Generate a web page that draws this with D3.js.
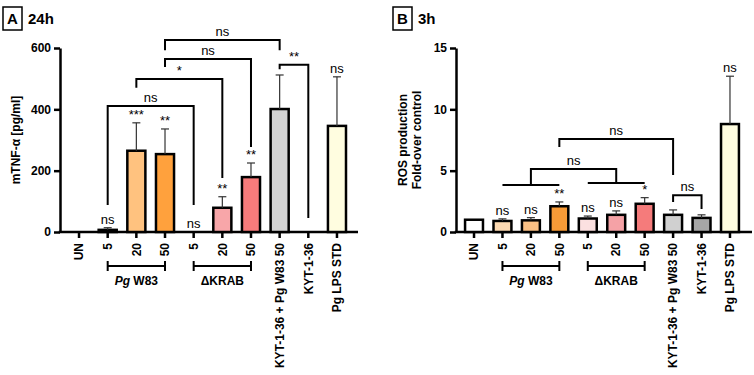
<!DOCTYPE html>
<html>
<head>
<meta charset="utf-8">
<script src="https://cdn.jsdelivr.net/npm/d3@7"></script>
<style>
  body { margin: 0; background: #fff; }
  svg { display: block; font-family: 'Liberation Sans', Arial, sans-serif; }
</style>
</head>
<body>
<svg id="chart" width="754" height="375"></svg>
<script>
// categorias (iguais nos dois paineis)
const categories = ['UN', '5', '20', '50', '5', '20', '50', 'KYT-1-36 + Pg W83 50', 'KYT-1-36', 'Pg LPS STD'];

// painel A - mTNF-a 24h
const tnfMean = [0, 7, 265, 254, 0, 79, 179, 401, 0, 346];
const tnfErr  = [0, 7, 91, 82, 0, 36, 46, 111, 0, 160];
const tnfSig  = ['', 'ns', '***', '**', 'ns', '**', '**', '', '', 'ns'];
const tnfTicks = [0, 200, 400, 600];
const tnfColors = ['#ffffff', '#fcd9b1', '#ffc27f', '#ffa13d', '#fde2e2', '#f8a6a9', '#f77b7b', '#d3d3d3', '#a9a9a9', '#fffde0'];
// comparacoes: indices a/b, altura do topo e das pernas (unidades do eixo)
const tnfBrackets = [
  { a: 1, b: 4, top: 411, legA: 88, legB: 88, label: 'ns' },
  { a: 2, b: 5, top: 499, legA: 470, legB: 176, label: '*' },
  { a: 3, b: 6, top: 564, legA: 538, legB: 277, label: 'ns' },
  { a: 3, b: 7, top: 626, legA: 593, legB: 593, label: 'ns' },
  { a: 7, b: 8, top: 545, legA: 531, legB: 46, label: '**' }
];

// painel B - ROS 3h
const rosMean = [1.0, 0.9, 0.95, 2.1, 1.1, 1.4, 2.3, 1.4, 1.15, 8.8];
const rosErr  = [0, 0.17, 0.22, 0.35, 0.2, 0.32, 0.5, 0.4, 0.25, 3.9];
const rosSig  = ['', 'ns', 'ns', '**', 'ns', 'ns', '*', '', '', 'ns'];
const rosTicks = [0, 5, 10, 15];
const rosColors = ['#ffffff', '#fcd9b1', '#f9bf84', '#f89b37', '#fbe0e0', '#f5a2a6', '#f57b7b', '#d0d0d0', '#a6a6a6', '#fffde0'];
const rosGroupLines = [
  { a: 1, b: 3, y: 3.83 },
  { a: 4, b: 6, y: 4.0 }
];
const rosBrackets = [
  { a: 2, b: 5, top: 5.13, legA: 3.83, legB: 4.0, label: 'ns' },
  { a: 3, b: 7, top: 7.58, legA: 6.93, legB: 4.65, label: 'ns' },
  { a: 7, b: 8, top: 3.0, legA: 2.45, legB: 1.87, label: 'ns' }
];

// grupos abaixo do eixo x
const groups = [
  { a: 1, b: 3, label: 'W83', italic: 'Pg' },
  { a: 4, b: 6, label: '\u0394KRAB', italic: '' }
];

const svg = d3.select('#chart');
const baseY = 232, topY = 48;

function drawPanel(p) {
  const g = svg.append('g');

  const x = d3.scaleBand()
    .domain(d3.range(categories.length))
    .range([p.x0, p.x1])
    .paddingInner(0.37)
    .paddingOuter(0.185);
  const cx = i => x(i) + x.bandwidth() / 2;

  const y = d3.scaleLinear()
    .domain([0, p.yMax])
    .range([baseY, topY]);

  // titulo com letra em caixa
  g.append('rect')
    .attr('x', p.titleX).attr('y', 7).attr('width', 19).attr('height', 23)
    .attr('fill', 'none').attr('stroke', '#000').attr('stroke-width', 1.5);
  g.append('text')
    .attr('x', p.titleX + 9.5).attr('y', 24).attr('text-anchor', 'middle')
    .attr('font-size', 15).attr('font-weight', 'bold').text(p.letter);
  g.append('text')
    .attr('x', p.titleX + 25).attr('y', 24)
    .attr('font-size', 15).attr('font-weight', 'bold').text(p.title);

  // eixo y
  const yAxis = d3.axisLeft(y).tickValues(p.ticks).tickSize(6).tickSizeOuter(0).tickPadding(3);
  const ya = g.append('g').attr('transform', `translate(${p.axisX},0)`).call(yAxis);
  ya.select('.domain').attr('stroke-width', 2.5);
  ya.selectAll('.tick line').attr('stroke-width', 2.5);
  ya.selectAll('.tick text').attr('font-size', 12).attr('font-weight', 'bold')
    .attr('font-family', "'Liberation Sans', Arial, sans-serif").attr('fill', '#000');

  // eixo x
  const xAxis = d3.axisBottom(x).tickSize(6).tickFormat(i => categories[i]);
  const xa = g.append('g').attr('transform', `translate(0,${baseY})`).call(xAxis);
  xa.select('.domain').remove();
  xa.selectAll('.tick line').attr('stroke-width', 2.5);
  xa.selectAll('.tick text')
    .attr('transform', 'rotate(-90)')
    .attr('text-anchor', 'end')
    .attr('x', -11).attr('y', 0).attr('dy', '0.35em')
    .attr('font-size', 12).attr('font-weight', 'bold')
    .attr('font-family', "'Liberation Sans', Arial, sans-serif").attr('fill', '#000');
  g.append('line')
    .attr('x1', p.axisX - 1.25).attr('x2', p.xEnd)
    .attr('y1', baseY).attr('y2', baseY)
    .attr('stroke', '#000').attr('stroke-width', 2.5);

  // rotulo do eixo y
  p.yLabel.forEach((t, k) => {
    g.append('text')
      .attr('transform', `translate(${p.yLabelX + k * 14},140) rotate(-90)`)
      .attr('text-anchor', 'middle').attr('font-size', 12).attr('font-weight', 'bold')
      .text(t);
  });

  // barras
  const idx = d3.range(categories.length).filter(i => p.mean[i] > 0);
  g.append('g').selectAll('rect').data(idx).enter().append('rect')
    .attr('x', i => x(i))
    .attr('y', i => y(p.mean[i]))
    .attr('width', x.bandwidth())
    .attr('height', i => baseY - y(p.mean[i]))
    .attr('fill', i => p.colors[i])
    .attr('stroke', '#000').attr('stroke-width', 2.5);

  // barras de erro
  const eb = g.append('g').attr('stroke', '#333').attr('stroke-width', 1.2);
  idx.filter(i => p.err[i] > 0).forEach(i => {
    eb.append('line').attr('x1', cx(i)).attr('x2', cx(i))
      .attr('y1', y(p.mean[i])).attr('y2', y(p.mean[i] + p.err[i]));
    eb.append('line').attr('x1', cx(i) - 4).attr('x2', cx(i) + 4)
      .attr('y1', y(p.mean[i] + p.err[i])).attr('y2', y(p.mean[i] + p.err[i]));
  });

  // significancia sobre as barras
  g.append('g').selectAll('text').data(d3.range(categories.length).filter(i => p.sig[i])).enter()
    .append('text')
    .attr('x', i => cx(i))
    .attr('y', i => y(p.mean[i] + p.err[i]) - 4)
    .attr('text-anchor', 'middle').attr('font-size', 13)
    .text(i => p.sig[i]);

  // linhas de agrupamento (so painel B)
  (p.groupLines || []).forEach(l => {
    g.append('line').attr('x1', cx(l.a)).attr('x2', cx(l.b))
      .attr('y1', y(l.y)).attr('y2', y(l.y))
      .attr('stroke', '#000').attr('stroke-width', 2);
  });

  // colchetes de comparacao
  p.brackets.forEach(b => {
    g.append('path')
      .attr('d', `M${cx(b.a)},${y(b.legA)}V${y(b.top)}H${cx(b.b)}V${y(b.legB)}`)
      .attr('fill', 'none').attr('stroke', '#000').attr('stroke-width', 2);
    g.append('text')
      .attr('x', (cx(b.a) + cx(b.b)) / 2).attr('y', y(b.top) - 4)
      .attr('text-anchor', 'middle').attr('font-size', 13)
      .text(b.label);
  });

  // grupos sob o eixo
  groups.forEach(gr => {
    const gy = baseY + 34;
    g.append('path')
      .attr('d', `M${cx(gr.a)},${gy - 5}V${gy + 5}M${cx(gr.a)},${gy}H${cx(gr.b)}M${cx(gr.b)},${gy - 5}V${gy + 5}`)
      .attr('fill', 'none').attr('stroke', '#000').attr('stroke-width', 2);
    const t = g.append('text')
      .attr('x', (cx(gr.a) + cx(gr.b)) / 2).attr('y', gy + 19)
      .attr('text-anchor', 'middle').attr('font-size', 12).attr('font-weight', 'bold');
    if (gr.italic) {
      t.append('tspan').attr('font-style', 'italic').text(gr.italic + ' ');
    }
    t.append('tspan').text(gr.label);
  });
}

drawPanel({
  letter: 'A', title: '24h', titleX: 3,
  axisX: 60, xEnd: 358, x0: 64.7, x1: 351.3,
  yMax: 600, ticks: tnfTicks,
  mean: tnfMean, err: tnfErr, sig: tnfSig, colors: tnfColors,
  brackets: tnfBrackets,
  yLabel: ['mTNF-\u03b1  [pg/ml]'], yLabelX: 20
});

drawPanel({
  letter: 'B', title: '3h', titleX: 393,
  axisX: 456, xEnd: 752, x0: 459.8, x1: 744.2,
  yMax: 15, ticks: rosTicks,
  mean: rosMean, err: rosErr, sig: rosSig, colors: rosColors,
  groupLines: rosGroupLines, brackets: rosBrackets,
  yLabel: ['ROS production', 'Fold-over control'], yLabelX: 407
});
</script>
</body>
</html>
